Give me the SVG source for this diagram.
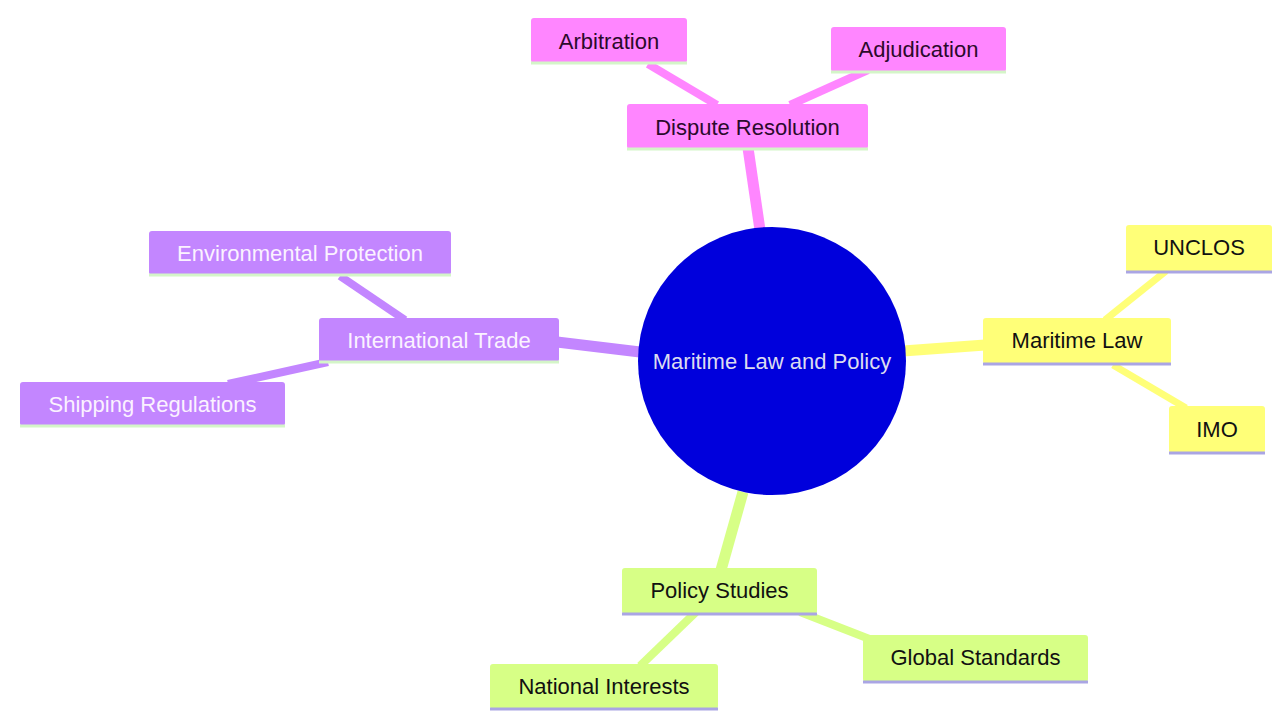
<svg xmlns="http://www.w3.org/2000/svg" width="1272" height="711" viewBox="0 0 1272 711">
<style>
text{font-family:"Liberation Sans",Arial,sans-serif;font-size:22px;text-anchor:middle;dominant-baseline:central}
.e{fill:none;stroke-linecap:butt}
.pk{fill:#ff86ff}.pkt{fill:#2b0a2b}
.pu{fill:#c386ff}.put{fill:#fbf2ff}
.ye{fill:#ffff78}.yet{fill:#111}
.gr{fill:#d7ff86}.grt{fill:#111}
.lg{stroke:#d4f5c8;stroke-width:3}
.lp{stroke:#aaa5e4;stroke-width:3}
</style>
<rect width="1272" height="711" fill="#ffffff"/>
<g id="connectors">
<line class="e" x1="760" y1="230" x2="748" y2="148" stroke="#ff86ff" stroke-width="11"/>
<line class="e" x1="717" y1="105" x2="648" y2="64" stroke="#ff86ff" stroke-width="8"/>
<line class="e" x1="790" y1="105" x2="868" y2="70" stroke="#ff86ff" stroke-width="8"/>
<line class="e" x1="640" y1="352" x2="557" y2="342" stroke="#c386ff" stroke-width="11"/>
<line class="e" x1="405" y1="320" x2="340" y2="276" stroke="#c386ff" stroke-width="8"/>
<line class="e" x1="328" y1="362" x2="228" y2="384" stroke="#c386ff" stroke-width="8"/>
<line class="e" x1="903" y1="351" x2="985" y2="345" stroke="#ffff78" stroke-width="11"/>
<line class="e" x1="1105" y1="320" x2="1166" y2="271" stroke="#ffff78" stroke-width="7"/>
<line class="e" x1="1113" y1="365" x2="1186" y2="408" stroke="#ffff78" stroke-width="7"/>
<line class="e" x1="743" y1="492" x2="721" y2="570" stroke="#d7ff86" stroke-width="11"/>
<line class="e" x1="696" y1="612" x2="640" y2="666" stroke="#d7ff86" stroke-width="8"/>
<line class="e" x1="800" y1="612" x2="872" y2="640" stroke="#d7ff86" stroke-width="8"/>
</g>
<g id="root">
<circle cx="772" cy="361" r="134" fill="#0000dc"/>
<text x="772" y="361" fill="#dcdcf0">Maritime Law and Policy</text>
</g>
<g id="dispute">
<rect class="pk" x="627" y="104" width="241" height="45" rx="3"/>
<line class="lg" x1="627" y1="149" x2="868" y2="149"/>
<text class="pkt" x="747.5" y="127">Dispute Resolution</text>
</g>
<g id="arbitration">
<rect class="pk" x="531" y="18" width="156" height="45" rx="3"/>
<line class="lg" x1="531" y1="63" x2="687" y2="63"/>
<text class="pkt" x="609" y="41">Arbitration</text>
</g>
<g id="adjudication">
<rect class="pk" x="831" y="27" width="175" height="45" rx="3"/>
<line class="lg" x1="831" y1="72" x2="1006" y2="72"/>
<text class="pkt" x="918.5" y="49">Adjudication</text>
</g>
<g id="trade">
<rect class="pu" x="319" y="318" width="240" height="44" rx="3"/>
<line class="lg" x1="319" y1="362" x2="559" y2="362"/>
<text class="put" x="439" y="340">International Trade</text>
</g>
<g id="environment">
<rect class="pu" x="149" y="231" width="302" height="44" rx="3"/>
<line class="lg" x1="149" y1="275" x2="451" y2="275"/>
<text class="put" x="300" y="253">Environmental Protection</text>
</g>
<g id="shipping">
<rect class="pu" x="20" y="382" width="265" height="44" rx="3"/>
<line class="lg" x1="20" y1="426" x2="285" y2="426"/>
<text class="put" x="152.5" y="404">Shipping Regulations</text>
</g>
<g id="maritime">
<rect class="ye" x="983" y="318" width="188" height="46" rx="3"/>
<line class="lp" x1="983" y1="364" x2="1171" y2="364"/>
<text class="yet" x="1077" y="340">Maritime Law</text>
</g>
<g id="unclos">
<rect class="ye" x="1126" y="225" width="146" height="47" rx="3"/>
<line class="lp" x1="1126" y1="272" x2="1272" y2="272"/>
<text class="yet" x="1199" y="247">UNCLOS</text>
</g>
<g id="imo">
<rect class="ye" x="1169" y="406" width="96" height="47" rx="3"/>
<line class="lp" x1="1169" y1="453" x2="1265" y2="453"/>
<text class="yet" x="1217" y="429">IMO</text>
</g>
<g id="policy">
<rect class="gr" x="622" y="568" width="195" height="46" rx="3"/>
<line class="lp" x1="622" y1="614" x2="817" y2="614"/>
<text class="grt" x="719.5" y="590">Policy Studies</text>
</g>
<g id="national">
<rect class="gr" x="490" y="664" width="228" height="45" rx="3"/>
<line class="lp" x1="490" y1="709" x2="718" y2="709"/>
<text class="grt" x="604" y="686">National Interests</text>
</g>
<g id="global">
<rect class="gr" x="863" y="635" width="225" height="47" rx="3"/>
<line class="lp" x1="863" y1="682" x2="1088" y2="682"/>
<text class="grt" x="975.5" y="657">Global Standards</text>
</g>
</svg>
